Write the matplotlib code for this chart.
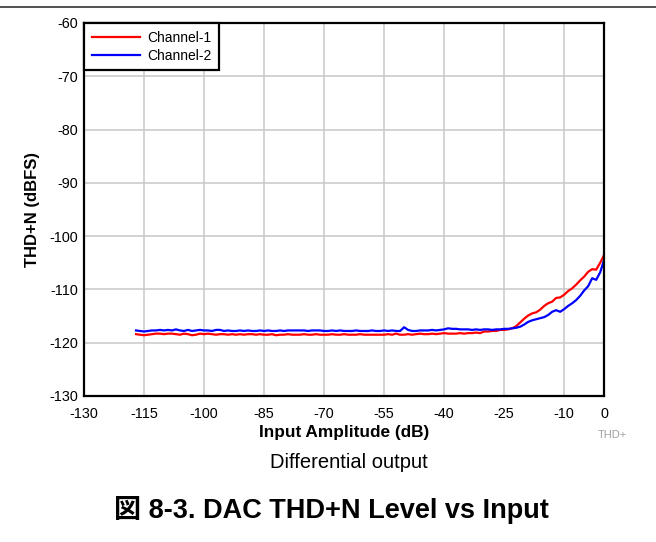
import matplotlib
matplotlib.use("Agg")
import matplotlib.pyplot as plt
from matplotlib.lines import Line2D

# ── DATA ──────────────────────────────────────────────────────────
input_db = list(range(-117, 1))  # sweep, 1 dB steps

ch1_thdn = [
    -118.4, -118.5, -118.6, -118.5, -118.4, -118.3, -118.3, -118.4, -118.3, -118.3,
    -118.4, -118.5, -118.3, -118.4, -118.6, -118.5, -118.3, -118.4, -118.3, -118.4,
    -118.5, -118.4, -118.4, -118.5, -118.4, -118.5, -118.4, -118.5, -118.4, -118.4,
    -118.5, -118.4, -118.5, -118.5, -118.4, -118.6, -118.5, -118.5, -118.4, -118.5,
    -118.5, -118.5, -118.4, -118.5, -118.5, -118.4, -118.5, -118.5, -118.5, -118.4,
    -118.5, -118.5, -118.4, -118.5, -118.5, -118.5, -118.4, -118.5, -118.5, -118.5,
    -118.5, -118.5, -118.5, -118.4, -118.5, -118.3, -118.5, -118.5, -118.4, -118.5,
    -118.4, -118.3, -118.4, -118.4, -118.3, -118.4, -118.3, -118.2, -118.3, -118.3,
    -118.3, -118.2, -118.3, -118.2, -118.2, -118.1, -118.2, -117.9, -117.9, -117.8,
    -117.8, -117.6, -117.6, -117.5, -117.3, -116.9, -116.2, -115.5, -114.9, -114.5,
    -114.3, -113.8, -113.1, -112.6, -112.3, -111.6, -111.5, -111.0, -110.3, -109.8,
    -109.1, -108.3, -107.6, -106.7, -106.2, -106.3, -105.0, -103.5,
]

ch2_thdn = [
    -117.7, -117.8, -117.9, -117.8, -117.7, -117.7, -117.6, -117.7, -117.6, -117.7,
    -117.5, -117.7, -117.8, -117.6, -117.8, -117.7, -117.6, -117.7, -117.7, -117.8,
    -117.6, -117.6, -117.8, -117.7, -117.8, -117.8, -117.7, -117.8, -117.7, -117.8,
    -117.8, -117.7, -117.8, -117.7, -117.8, -117.8, -117.7, -117.8, -117.7, -117.7,
    -117.7, -117.7, -117.7, -117.8, -117.7, -117.7, -117.7, -117.8, -117.8, -117.7,
    -117.8, -117.7, -117.8, -117.8, -117.8, -117.7, -117.8, -117.8, -117.8, -117.7,
    -117.8, -117.8, -117.7, -117.8, -117.7, -117.8, -117.8, -117.1, -117.6, -117.8,
    -117.8, -117.7, -117.7, -117.7, -117.6, -117.7, -117.6, -117.5, -117.3, -117.4,
    -117.4, -117.5, -117.5, -117.5, -117.6, -117.5, -117.6, -117.5, -117.5, -117.6,
    -117.5, -117.5, -117.4, -117.4, -117.3, -117.2, -117.0, -116.6, -116.1, -115.8,
    -115.6, -115.4, -115.2, -114.8, -114.2, -113.9, -114.2, -113.7, -113.1, -112.6,
    -112.0, -111.2, -110.2, -109.4, -107.9, -108.2, -106.8, -104.4,
]

x_ticks = [-130, -115, -100, -85, -70, -55, -40, -25, -10, 0]
y_ticks = [-130, -120, -110, -100, -90, -80, -70, -60]
# ─────────────────────────────────────────────────────────────────

plt.rcParams["font.family"] = ["Liberation Sans", "DejaVu Sans"]
plt.rcParams["axes.unicode_minus"] = False

fig = plt.figure(figsize=(6.56, 5.42), dpi=100)
ax = fig.add_axes([0.128, 0.2694, 0.793, 0.6882])

ax.plot(input_db, ch1_thdn, color="#ff0000", linewidth=1.6, label="Channel-1")
ax.plot(input_db, ch2_thdn, color="#0000ff", linewidth=1.6, label="Channel-2")

ax.set_xlim(-130, 0)
ax.set_ylim(-130, -60)
ax.set_xticks(x_ticks)
ax.set_yticks(y_ticks)
ax.tick_params(length=0, labelsize=10.4)
ax.tick_params(axis="x", pad=8)
ax.tick_params(axis="y", pad=4)
ax.grid(True, color="#c8c8c8", linewidth=1.1)
ax.set_axisbelow(True)
for s in ax.spines.values():
    s.set_linewidth(1.6)
    s.set_color("black")

ax.set_xlabel("Input Amplitude (dB)", fontsize=12.4, fontweight="bold", labelpad=3)
ax.set_ylabel("THD+N (dBFS)", fontsize=12, fontweight="bold", labelpad=7)

handles = [
    Line2D([0], [0], color="#ff0000", linewidth=1.6, label="Channel-1"),
    Line2D([0], [0], color="#0000ff", linewidth=1.6, label="Channel-2"),
]
leg = ax.legend(handles=handles, loc="upper left", fontsize=10, fancybox=False,
                framealpha=1, borderaxespad=0, handlelength=3.5,
                borderpad=0.55, labelspacing=0.3, handletextpad=0.5)
leg.get_frame().set_edgecolor("black")
leg.get_frame().set_linewidth(1.6)

fig.text(598 / 656, 1 - 435 / 542, "THD+", fontsize=8, color="#a0a0a0",
         ha="left", va="center")
fig.text(349 / 656, 1 - 462 / 542, "Differential output", fontsize=14.5,
         ha="center", va="center")
fig.text(331 / 656, 1 - 510 / 542, "図 8-3. DAC THD+N Level vs Input", fontsize=19.5,
         fontweight="bold", ha="center", va="center",
         family=["Liberation Sans", "Noto Sans CJK JP"])

fig.add_artist(Line2D([0, 1], [1 - 7 / 542, 1 - 7 / 542], color="#333333",
                      linewidth=1.2, transform=fig.transFigure))

fig.savefig("out.png", dpi=100)
